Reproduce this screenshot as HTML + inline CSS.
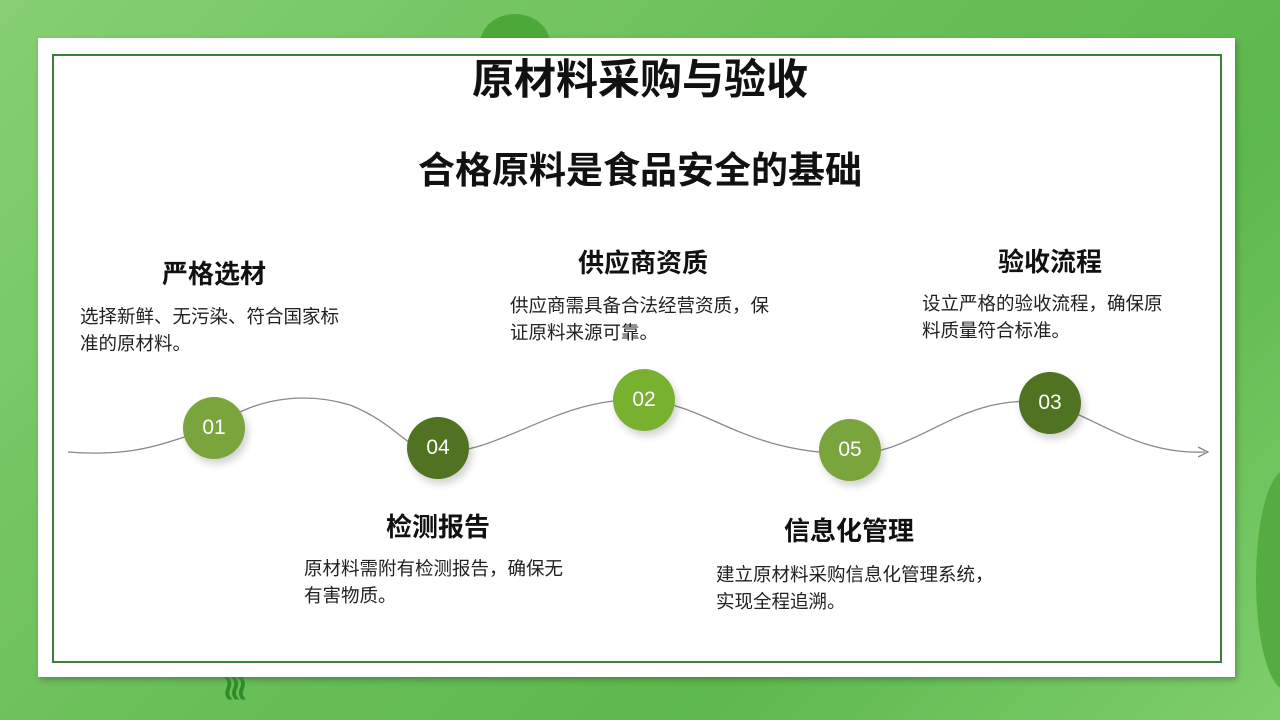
<!DOCTYPE html>
<html><head><meta charset="utf-8"><style>
body{margin:0;width:1280px;height:720px;overflow:hidden;position:relative;font-family:"Liberation Sans","Noto Sans CJK SC",sans-serif;background:linear-gradient(135deg,#86cf74 0%,#6cc05a 40%,#5db84e 70%,#7fce6c 100%);}
.abs{position:absolute}
.card{left:38px;top:38px;width:1197px;height:639px;background:#fff;box-shadow:2px 3px 6px rgba(0,0,0,.25)}
.inner{left:52px;top:54px;width:1166px;height:605px;border:2px solid #3f7d3c}
h1,h2,h3{margin:0;position:absolute;font-weight:bold;color:#111;white-space:nowrap}
p{margin:0;position:absolute;font-size:18.5px;line-height:27px;color:#222;white-space:nowrap}
.c{position:absolute;width:62px;height:62px;border-radius:50%;color:#fff;font-size:21px;text-align:center;line-height:62px;box-shadow:3px 5px 8px rgba(0,0,0,.18)}
</style></head><body>
<div class="abs" style="left:480px;top:14px;width:70px;height:60px;border-radius:50%;background:#4da83a"></div>
<div class="abs" style="left:1256px;top:470px;width:60px;height:220px;border-radius:50%;background:#55ad42"></div>
<div class="abs card"></div>
<div class="abs inner"></div>
<div class="abs" style="left:222px;top:668px;color:#2f8a2a;font-size:34px;font-weight:bold;letter-spacing:-6px">≀≀≀</div>
<h1 style="left:0;width:1280px;text-align:center;top:46px;font-size:42px">原材料采购与验收</h1>
<h2 style="left:0;width:1280px;text-align:center;top:140px;font-size:37px">合格原料是食品安全的基础</h2>
<svg class="abs" style="left:0;top:0" width="1280" height="720">
<path d="M68,452 C140,458 170,440 214,428 C250,400 300,390 350,405 C400,425 410,455 438,452 C500,455 560,395 644,400 C710,405 740,452 850,454 C920,455 960,390 1050,403 C1100,420 1140,455 1205,452" fill="none" stroke="#888" stroke-width="1.3"/>
<path d="M1198,447 L1208,452 L1198,457" fill="none" stroke="#888" stroke-width="1.3"/>
</svg>
<div class="c" style="left:183px;top:397px;background:#7aa43c">01</div>
<div class="c" style="left:407px;top:417px;background:#4f7320">04</div>
<div class="c" style="left:613px;top:369px;background:#78b030">02</div>
<div class="c" style="left:819px;top:419px;background:#7aa43c">05</div>
<div class="c" style="left:1019px;top:372px;background:#4f7320">03</div>
<h3 style="left:162px;top:254px;font-size:26px">严格选材</h3>
<p style="left:80px;top:303px">选择新鲜、无污染、符合国家标<br>准的原材料。</p>
<h3 style="left:578px;top:243px;font-size:26px">供应商资质</h3>
<p style="left:510px;top:292px">供应商需具备合法经营资质，保<br>证原料来源可靠。</p>
<h3 style="left:998px;top:242px;font-size:26px">验收流程</h3>
<p style="left:922px;top:290px">设立严格的验收流程，确保原<br>料质量符合标准。</p>
<h3 style="left:386px;top:507px;font-size:26px">检测报告</h3>
<p style="left:304px;top:555px">原材料需附有检测报告，确保无<br>有害物质。</p>
<h3 style="left:784px;top:511px;font-size:26px">信息化管理</h3>
<p style="left:716px;top:561px">建立原材料采购信息化管理系统，<br>实现全程追溯。</p>
</body></html>
